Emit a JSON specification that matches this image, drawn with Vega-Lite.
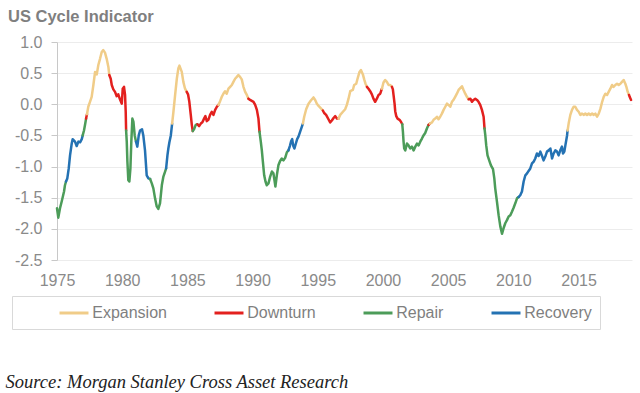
{
 "$schema": "https://vega.github.io/schema/vega-lite/v6.json",
 "width": 575, "height": 218,
 "autosize": {"type": "none"},
 "padding": {"left": 57, "top": 42, "right": 8, "bottom": 133},
 "background": "white",
 "title": {"text": "US Cycle Indicator", "anchor": "start", "frame": "group", "dx": -49, "offset": 9, "font": "Liberation Sans", "fontSize": 16.5, "fontWeight": "bold", "color": "#7f7f7f"},
 "config": {"view": {"stroke": null}, "font": "Liberation Sans"},
 "data": {"values": [
  {"year":1975.00,"value":-1.67,"phase":"Repair","seg":1},
  {"year":1975.10,"value":-1.82,"phase":"Repair","seg":1},
  {"year":1975.23,"value":-1.67,"phase":"Repair","seg":1},
  {"year":1975.36,"value":-1.56,"phase":"Repair","seg":1},
  {"year":1975.54,"value":-1.40,"phase":"Repair","seg":1},
  {"year":1975.61,"value":-1.30,"phase":"Repair","seg":1},
  {"year":1975.69,"value":-1.24,"phase":"Repair","seg":1},
  {"year":1975.69,"value":-1.24,"phase":"Recovery","seg":2},
  {"year":1975.79,"value":-1.19,"phase":"Recovery","seg":2},
  {"year":1975.90,"value":-1.03,"phase":"Recovery","seg":2},
  {"year":1976.00,"value":-0.82,"phase":"Recovery","seg":2},
  {"year":1976.13,"value":-0.63,"phase":"Recovery","seg":2},
  {"year":1976.20,"value":-0.56,"phase":"Recovery","seg":2},
  {"year":1976.38,"value":-0.60,"phase":"Recovery","seg":2},
  {"year":1976.51,"value":-0.67,"phase":"Recovery","seg":2},
  {"year":1976.64,"value":-0.60,"phase":"Recovery","seg":2},
  {"year":1976.77,"value":-0.61,"phase":"Recovery","seg":2},
  {"year":1976.90,"value":-0.56,"phase":"Recovery","seg":2},
  {"year":1976.97,"value":-0.50,"phase":"Recovery","seg":2},
  {"year":1976.97,"value":-0.50,"phase":"Repair","seg":3},
  {"year":1977.07,"value":-0.42,"phase":"Repair","seg":3},
  {"year":1977.15,"value":-0.33,"phase":"Repair","seg":3},
  {"year":1977.23,"value":-0.23,"phase":"Repair","seg":3},
  {"year":1977.23,"value":-0.23,"phase":"Downturn","seg":4},
  {"year":1977.30,"value":-0.16,"phase":"Downturn","seg":4},
  {"year":1977.30,"value":-0.16,"phase":"Expansion","seg":5},
  {"year":1977.40,"value":-0.04,"phase":"Expansion","seg":5},
  {"year":1977.53,"value":0.04,"phase":"Expansion","seg":5},
  {"year":1977.66,"value":0.12,"phase":"Expansion","seg":5},
  {"year":1977.79,"value":0.31,"phase":"Expansion","seg":5},
  {"year":1977.92,"value":0.52,"phase":"Expansion","seg":5},
  {"year":1978.05,"value":0.48,"phase":"Expansion","seg":5},
  {"year":1978.17,"value":0.63,"phase":"Expansion","seg":5},
  {"year":1978.30,"value":0.73,"phase":"Expansion","seg":5},
  {"year":1978.43,"value":0.84,"phase":"Expansion","seg":5},
  {"year":1978.55,"value":0.87,"phase":"Expansion","seg":5},
  {"year":1978.68,"value":0.83,"phase":"Expansion","seg":5},
  {"year":1978.81,"value":0.73,"phase":"Expansion","seg":5},
  {"year":1978.94,"value":0.60,"phase":"Expansion","seg":5},
  {"year":1979.01,"value":0.47,"phase":"Expansion","seg":5},
  {"year":1979.01,"value":0.47,"phase":"Downturn","seg":6},
  {"year":1979.12,"value":0.41,"phase":"Downturn","seg":6},
  {"year":1979.20,"value":0.31,"phase":"Downturn","seg":6},
  {"year":1979.32,"value":0.24,"phase":"Downturn","seg":6},
  {"year":1979.45,"value":0.20,"phase":"Downturn","seg":6},
  {"year":1979.58,"value":0.13,"phase":"Downturn","seg":6},
  {"year":1979.70,"value":0.16,"phase":"Downturn","seg":6},
  {"year":1979.83,"value":0.08,"phase":"Downturn","seg":6},
  {"year":1979.97,"value":0.01,"phase":"Downturn","seg":6},
  {"year":1980.04,"value":0.25,"phase":"Downturn","seg":6},
  {"year":1980.14,"value":0.28,"phase":"Downturn","seg":6},
  {"year":1980.22,"value":0.15,"phase":"Downturn","seg":6},
  {"year":1980.27,"value":-0.12,"phase":"Downturn","seg":6},
  {"year":1980.30,"value":-0.42,"phase":"Downturn","seg":6},
  {"year":1980.30,"value":-0.42,"phase":"Repair","seg":7},
  {"year":1980.35,"value":-0.60,"phase":"Repair","seg":7},
  {"year":1980.40,"value":-0.92,"phase":"Repair","seg":7},
  {"year":1980.47,"value":-1.22,"phase":"Repair","seg":7},
  {"year":1980.55,"value":-1.24,"phase":"Repair","seg":7},
  {"year":1980.63,"value":-1.03,"phase":"Repair","seg":7},
  {"year":1980.70,"value":-0.60,"phase":"Repair","seg":7},
  {"year":1980.78,"value":-0.23,"phase":"Repair","seg":7},
  {"year":1980.86,"value":-0.28,"phase":"Repair","seg":7},
  {"year":1980.96,"value":-0.50,"phase":"Repair","seg":7},
  {"year":1981.06,"value":-0.60,"phase":"Repair","seg":7},
  {"year":1981.06,"value":-0.60,"phase":"Recovery","seg":8},
  {"year":1981.16,"value":-0.68,"phase":"Recovery","seg":8},
  {"year":1981.27,"value":-0.50,"phase":"Recovery","seg":8},
  {"year":1981.37,"value":-0.42,"phase":"Recovery","seg":8},
  {"year":1981.52,"value":-0.40,"phase":"Recovery","seg":8},
  {"year":1981.62,"value":-0.50,"phase":"Recovery","seg":8},
  {"year":1981.75,"value":-0.74,"phase":"Recovery","seg":8},
  {"year":1981.88,"value":-1.14,"phase":"Recovery","seg":8},
  {"year":1982.01,"value":-1.19,"phase":"Recovery","seg":8},
  {"year":1982.14,"value":-1.20,"phase":"Recovery","seg":8},
  {"year":1982.14,"value":-1.20,"phase":"Repair","seg":9},
  {"year":1982.27,"value":-1.27,"phase":"Repair","seg":9},
  {"year":1982.39,"value":-1.35,"phase":"Repair","seg":9},
  {"year":1982.52,"value":-1.51,"phase":"Repair","seg":9},
  {"year":1982.65,"value":-1.64,"phase":"Repair","seg":9},
  {"year":1982.77,"value":-1.68,"phase":"Repair","seg":9},
  {"year":1982.90,"value":-1.59,"phase":"Repair","seg":9},
  {"year":1983.04,"value":-1.30,"phase":"Repair","seg":9},
  {"year":1983.16,"value":-1.16,"phase":"Repair","seg":9},
  {"year":1983.29,"value":-1.08,"phase":"Repair","seg":9},
  {"year":1983.37,"value":-1.03,"phase":"Repair","seg":9},
  {"year":1983.37,"value":-1.03,"phase":"Recovery","seg":10},
  {"year":1983.47,"value":-0.82,"phase":"Recovery","seg":10},
  {"year":1983.54,"value":-0.71,"phase":"Recovery","seg":10},
  {"year":1983.62,"value":-0.61,"phase":"Recovery","seg":10},
  {"year":1983.73,"value":-0.50,"phase":"Recovery","seg":10},
  {"year":1983.83,"value":-0.31,"phase":"Recovery","seg":10},
  {"year":1983.83,"value":-0.31,"phase":"Expansion","seg":11},
  {"year":1983.93,"value":-0.12,"phase":"Expansion","seg":11},
  {"year":1984.06,"value":0.15,"phase":"Expansion","seg":11},
  {"year":1984.19,"value":0.41,"phase":"Expansion","seg":11},
  {"year":1984.31,"value":0.58,"phase":"Expansion","seg":11},
  {"year":1984.39,"value":0.62,"phase":"Expansion","seg":11},
  {"year":1984.57,"value":0.52,"phase":"Expansion","seg":11},
  {"year":1984.69,"value":0.36,"phase":"Expansion","seg":11},
  {"year":1984.82,"value":0.25,"phase":"Expansion","seg":11},
  {"year":1984.95,"value":0.20,"phase":"Expansion","seg":11},
  {"year":1984.95,"value":0.20,"phase":"Downturn","seg":12},
  {"year":1985.05,"value":0.16,"phase":"Downturn","seg":12},
  {"year":1985.15,"value":0.04,"phase":"Downturn","seg":12},
  {"year":1985.26,"value":-0.17,"phase":"Downturn","seg":12},
  {"year":1985.34,"value":-0.33,"phase":"Downturn","seg":12},
  {"year":1985.41,"value":-0.43,"phase":"Downturn","seg":12},
  {"year":1985.41,"value":-0.43,"phase":"Repair","seg":13},
  {"year":1985.51,"value":-0.40,"phase":"Repair","seg":13},
  {"year":1985.64,"value":-0.33,"phase":"Repair","seg":13},
  {"year":1985.77,"value":-0.32,"phase":"Repair","seg":13},
  {"year":1985.77,"value":-0.32,"phase":"Downturn","seg":14},
  {"year":1985.90,"value":-0.35,"phase":"Downturn","seg":14},
  {"year":1986.03,"value":-0.31,"phase":"Downturn","seg":14},
  {"year":1986.15,"value":-0.29,"phase":"Downturn","seg":14},
  {"year":1986.28,"value":-0.23,"phase":"Downturn","seg":14},
  {"year":1986.38,"value":-0.19,"phase":"Downturn","seg":14},
  {"year":1986.49,"value":-0.27,"phase":"Downturn","seg":14},
  {"year":1986.61,"value":-0.25,"phase":"Downturn","seg":14},
  {"year":1986.74,"value":-0.17,"phase":"Downturn","seg":14},
  {"year":1986.87,"value":-0.12,"phase":"Downturn","seg":14},
  {"year":1987.00,"value":-0.17,"phase":"Downturn","seg":14},
  {"year":1987.13,"value":-0.09,"phase":"Downturn","seg":14},
  {"year":1987.26,"value":-0.04,"phase":"Downturn","seg":14},
  {"year":1987.38,"value":-0.01,"phase":"Downturn","seg":14},
  {"year":1987.38,"value":-0.01,"phase":"Expansion","seg":15},
  {"year":1987.51,"value":0.05,"phase":"Expansion","seg":15},
  {"year":1987.64,"value":0.12,"phase":"Expansion","seg":15},
  {"year":1987.76,"value":0.17,"phase":"Expansion","seg":15},
  {"year":1987.89,"value":0.21,"phase":"Expansion","seg":15},
  {"year":1988.02,"value":0.17,"phase":"Expansion","seg":15},
  {"year":1988.15,"value":0.25,"phase":"Expansion","seg":15},
  {"year":1988.28,"value":0.28,"phase":"Expansion","seg":15},
  {"year":1988.41,"value":0.31,"phase":"Expansion","seg":15},
  {"year":1988.53,"value":0.36,"phase":"Expansion","seg":15},
  {"year":1988.66,"value":0.41,"phase":"Expansion","seg":15},
  {"year":1988.79,"value":0.44,"phase":"Expansion","seg":15},
  {"year":1988.91,"value":0.47,"phase":"Expansion","seg":15},
  {"year":1989.04,"value":0.44,"phase":"Expansion","seg":15},
  {"year":1989.17,"value":0.40,"phase":"Expansion","seg":15},
  {"year":1989.30,"value":0.28,"phase":"Expansion","seg":15},
  {"year":1989.43,"value":0.20,"phase":"Expansion","seg":15},
  {"year":1989.56,"value":0.15,"phase":"Expansion","seg":15},
  {"year":1989.68,"value":0.09,"phase":"Expansion","seg":15},
  {"year":1989.68,"value":0.09,"phase":"Downturn","seg":16},
  {"year":1989.81,"value":0.07,"phase":"Downturn","seg":16},
  {"year":1990.07,"value":0.04,"phase":"Downturn","seg":16},
  {"year":1990.20,"value":-0.01,"phase":"Downturn","seg":16},
  {"year":1990.33,"value":-0.09,"phase":"Downturn","seg":16},
  {"year":1990.45,"value":-0.23,"phase":"Downturn","seg":16},
  {"year":1990.53,"value":-0.44,"phase":"Downturn","seg":16},
  {"year":1990.53,"value":-0.44,"phase":"Repair","seg":17},
  {"year":1990.63,"value":-0.60,"phase":"Repair","seg":17},
  {"year":1990.71,"value":-0.74,"phase":"Repair","seg":17},
  {"year":1990.79,"value":-0.92,"phase":"Repair","seg":17},
  {"year":1990.89,"value":-1.14,"phase":"Repair","seg":17},
  {"year":1990.99,"value":-1.24,"phase":"Repair","seg":17},
  {"year":1991.09,"value":-1.30,"phase":"Repair","seg":17},
  {"year":1991.22,"value":-1.27,"phase":"Repair","seg":17},
  {"year":1991.35,"value":-1.16,"phase":"Repair","seg":17},
  {"year":1991.48,"value":-1.08,"phase":"Repair","seg":17},
  {"year":1991.60,"value":-1.11,"phase":"Repair","seg":17},
  {"year":1991.68,"value":-1.22,"phase":"Repair","seg":17},
  {"year":1991.75,"value":-1.32,"phase":"Repair","seg":17},
  {"year":1991.86,"value":-1.14,"phase":"Repair","seg":17},
  {"year":1991.98,"value":-0.98,"phase":"Repair","seg":17},
  {"year":1992.11,"value":-0.91,"phase":"Repair","seg":17},
  {"year":1992.24,"value":-0.87,"phase":"Repair","seg":17},
  {"year":1992.37,"value":-0.90,"phase":"Repair","seg":17},
  {"year":1992.50,"value":-0.86,"phase":"Repair","seg":17},
  {"year":1992.63,"value":-0.77,"phase":"Repair","seg":17},
  {"year":1992.75,"value":-0.74,"phase":"Repair","seg":17},
  {"year":1992.75,"value":-0.74,"phase":"Recovery","seg":18},
  {"year":1992.86,"value":-0.67,"phase":"Recovery","seg":18},
  {"year":1992.96,"value":-0.59,"phase":"Recovery","seg":18},
  {"year":1993.04,"value":-0.56,"phase":"Recovery","seg":18},
  {"year":1993.11,"value":-0.66,"phase":"Recovery","seg":18},
  {"year":1993.21,"value":-0.71,"phase":"Recovery","seg":18},
  {"year":1993.32,"value":-0.63,"phase":"Recovery","seg":18},
  {"year":1993.42,"value":-0.56,"phase":"Recovery","seg":18},
  {"year":1993.52,"value":-0.52,"phase":"Recovery","seg":18},
  {"year":1993.65,"value":-0.44,"phase":"Recovery","seg":18},
  {"year":1993.78,"value":-0.36,"phase":"Recovery","seg":18},
  {"year":1993.86,"value":-0.31,"phase":"Recovery","seg":18},
  {"year":1993.86,"value":-0.31,"phase":"Expansion","seg":19},
  {"year":1993.96,"value":-0.20,"phase":"Expansion","seg":19},
  {"year":1994.11,"value":-0.08,"phase":"Expansion","seg":19},
  {"year":1994.29,"value":0.01,"phase":"Expansion","seg":19},
  {"year":1994.47,"value":0.06,"phase":"Expansion","seg":19},
  {"year":1994.67,"value":0.11,"phase":"Expansion","seg":19},
  {"year":1994.80,"value":0.07,"phase":"Expansion","seg":19},
  {"year":1994.93,"value":0.01,"phase":"Expansion","seg":19},
  {"year":1995.08,"value":-0.03,"phase":"Expansion","seg":19},
  {"year":1995.26,"value":-0.07,"phase":"Expansion","seg":19},
  {"year":1995.39,"value":-0.10,"phase":"Expansion","seg":19},
  {"year":1995.39,"value":-0.10,"phase":"Downturn","seg":20},
  {"year":1995.49,"value":-0.14,"phase":"Downturn","seg":20},
  {"year":1995.64,"value":-0.17,"phase":"Downturn","seg":20},
  {"year":1995.82,"value":-0.24,"phase":"Downturn","seg":20},
  {"year":1995.95,"value":-0.29,"phase":"Downturn","seg":20},
  {"year":1996.08,"value":-0.26,"phase":"Downturn","seg":20},
  {"year":1996.21,"value":-0.22,"phase":"Downturn","seg":20},
  {"year":1996.34,"value":-0.19,"phase":"Downturn","seg":20},
  {"year":1996.47,"value":-0.23,"phase":"Downturn","seg":20},
  {"year":1996.59,"value":-0.23,"phase":"Downturn","seg":20},
  {"year":1996.59,"value":-0.23,"phase":"Expansion","seg":21},
  {"year":1996.72,"value":-0.17,"phase":"Expansion","seg":21},
  {"year":1996.93,"value":-0.12,"phase":"Expansion","seg":21},
  {"year":1997.10,"value":-0.08,"phase":"Expansion","seg":21},
  {"year":1997.23,"value":-0.01,"phase":"Expansion","seg":21},
  {"year":1997.36,"value":0.09,"phase":"Expansion","seg":21},
  {"year":1997.49,"value":0.21,"phase":"Expansion","seg":21},
  {"year":1997.69,"value":0.23,"phase":"Expansion","seg":21},
  {"year":1997.79,"value":0.31,"phase":"Expansion","seg":21},
  {"year":1997.95,"value":0.33,"phase":"Expansion","seg":21},
  {"year":1998.05,"value":0.41,"phase":"Expansion","seg":21},
  {"year":1998.20,"value":0.52,"phase":"Expansion","seg":21},
  {"year":1998.31,"value":0.55,"phase":"Expansion","seg":21},
  {"year":1998.46,"value":0.48,"phase":"Expansion","seg":21},
  {"year":1998.56,"value":0.40,"phase":"Expansion","seg":21},
  {"year":1998.66,"value":0.33,"phase":"Expansion","seg":21},
  {"year":1998.77,"value":0.28,"phase":"Expansion","seg":21},
  {"year":1998.77,"value":0.28,"phase":"Downturn","seg":22},
  {"year":1998.89,"value":0.25,"phase":"Downturn","seg":22},
  {"year":1999.02,"value":0.21,"phase":"Downturn","seg":22},
  {"year":1999.15,"value":0.16,"phase":"Downturn","seg":22},
  {"year":1999.27,"value":0.09,"phase":"Downturn","seg":22},
  {"year":1999.40,"value":0.04,"phase":"Downturn","seg":22},
  {"year":1999.53,"value":0.09,"phase":"Downturn","seg":22},
  {"year":1999.66,"value":0.15,"phase":"Downturn","seg":22},
  {"year":1999.79,"value":0.17,"phase":"Downturn","seg":22},
  {"year":1999.92,"value":0.25,"phase":"Downturn","seg":22},
  {"year":1999.92,"value":0.25,"phase":"Expansion","seg":23},
  {"year":2000.04,"value":0.35,"phase":"Expansion","seg":23},
  {"year":2000.17,"value":0.39,"phase":"Expansion","seg":23},
  {"year":2000.30,"value":0.36,"phase":"Expansion","seg":23},
  {"year":2000.43,"value":0.31,"phase":"Expansion","seg":23},
  {"year":2000.56,"value":0.31,"phase":"Expansion","seg":23},
  {"year":2000.69,"value":0.28,"phase":"Expansion","seg":23},
  {"year":2000.69,"value":0.28,"phase":"Downturn","seg":24},
  {"year":2000.76,"value":0.24,"phase":"Downturn","seg":24},
  {"year":2000.81,"value":0.15,"phase":"Downturn","seg":24},
  {"year":2000.89,"value":0.01,"phase":"Downturn","seg":24},
  {"year":2000.94,"value":-0.11,"phase":"Downturn","seg":24},
  {"year":2001.02,"value":-0.19,"phase":"Downturn","seg":24},
  {"year":2001.12,"value":-0.23,"phase":"Downturn","seg":24},
  {"year":2001.27,"value":-0.25,"phase":"Downturn","seg":24},
  {"year":2001.38,"value":-0.28,"phase":"Downturn","seg":24},
  {"year":2001.48,"value":-0.32,"phase":"Downturn","seg":24},
  {"year":2001.48,"value":-0.32,"phase":"Repair","seg":25},
  {"year":2001.53,"value":-0.44,"phase":"Repair","seg":25},
  {"year":2001.58,"value":-0.60,"phase":"Repair","seg":25},
  {"year":2001.63,"value":-0.71,"phase":"Repair","seg":25},
  {"year":2001.71,"value":-0.74,"phase":"Repair","seg":25},
  {"year":2001.84,"value":-0.63,"phase":"Repair","seg":25},
  {"year":2001.96,"value":-0.66,"phase":"Repair","seg":25},
  {"year":2002.09,"value":-0.71,"phase":"Repair","seg":25},
  {"year":2002.22,"value":-0.68,"phase":"Repair","seg":25},
  {"year":2002.35,"value":-0.74,"phase":"Repair","seg":25},
  {"year":2002.48,"value":-0.68,"phase":"Repair","seg":25},
  {"year":2002.61,"value":-0.63,"phase":"Repair","seg":25},
  {"year":2002.73,"value":-0.66,"phase":"Repair","seg":25},
  {"year":2002.86,"value":-0.60,"phase":"Repair","seg":25},
  {"year":2002.99,"value":-0.55,"phase":"Repair","seg":25},
  {"year":2003.11,"value":-0.50,"phase":"Repair","seg":25},
  {"year":2003.24,"value":-0.46,"phase":"Repair","seg":25},
  {"year":2003.37,"value":-0.39,"phase":"Repair","seg":25},
  {"year":2003.50,"value":-0.33,"phase":"Repair","seg":25},
  {"year":2003.50,"value":-0.33,"phase":"Downturn","seg":26},
  {"year":2003.60,"value":-0.31,"phase":"Downturn","seg":26},
  {"year":2003.60,"value":-0.31,"phase":"Expansion","seg":27},
  {"year":2003.76,"value":-0.29,"phase":"Expansion","seg":27},
  {"year":2003.88,"value":-0.25,"phase":"Expansion","seg":27},
  {"year":2004.01,"value":-0.23,"phase":"Expansion","seg":27},
  {"year":2004.14,"value":-0.20,"phase":"Expansion","seg":27},
  {"year":2004.26,"value":-0.24,"phase":"Expansion","seg":27},
  {"year":2004.39,"value":-0.20,"phase":"Expansion","seg":27},
  {"year":2004.52,"value":-0.15,"phase":"Expansion","seg":27},
  {"year":2004.65,"value":-0.09,"phase":"Expansion","seg":27},
  {"year":2004.78,"value":-0.04,"phase":"Expansion","seg":27},
  {"year":2004.91,"value":0.01,"phase":"Expansion","seg":27},
  {"year":2005.03,"value":-0.01,"phase":"Expansion","seg":27},
  {"year":2005.16,"value":-0.04,"phase":"Expansion","seg":27},
  {"year":2005.29,"value":0.04,"phase":"Expansion","seg":27},
  {"year":2005.41,"value":0.07,"phase":"Expansion","seg":27},
  {"year":2005.54,"value":0.12,"phase":"Expansion","seg":27},
  {"year":2005.67,"value":0.17,"phase":"Expansion","seg":27},
  {"year":2005.80,"value":0.23,"phase":"Expansion","seg":27},
  {"year":2005.93,"value":0.26,"phase":"Expansion","seg":27},
  {"year":2006.06,"value":0.29,"phase":"Expansion","seg":27},
  {"year":2006.18,"value":0.23,"phase":"Expansion","seg":27},
  {"year":2006.31,"value":0.17,"phase":"Expansion","seg":27},
  {"year":2006.44,"value":0.12,"phase":"Expansion","seg":27},
  {"year":2006.57,"value":0.08,"phase":"Expansion","seg":27},
  {"year":2006.57,"value":0.08,"phase":"Downturn","seg":28},
  {"year":2006.70,"value":0.09,"phase":"Downturn","seg":28},
  {"year":2006.83,"value":0.04,"phase":"Downturn","seg":28},
  {"year":2006.95,"value":0.07,"phase":"Downturn","seg":28},
  {"year":2007.08,"value":0.09,"phase":"Downturn","seg":28},
  {"year":2007.21,"value":0.07,"phase":"Downturn","seg":28},
  {"year":2007.33,"value":0.04,"phase":"Downturn","seg":28},
  {"year":2007.46,"value":-0.01,"phase":"Downturn","seg":28},
  {"year":2007.59,"value":-0.09,"phase":"Downturn","seg":28},
  {"year":2007.72,"value":-0.20,"phase":"Downturn","seg":28},
  {"year":2007.79,"value":-0.39,"phase":"Downturn","seg":28},
  {"year":2007.79,"value":-0.39,"phase":"Repair","seg":29},
  {"year":2007.85,"value":-0.50,"phase":"Repair","seg":29},
  {"year":2007.92,"value":-0.66,"phase":"Repair","seg":29},
  {"year":2008.02,"value":-0.82,"phase":"Repair","seg":29},
  {"year":2008.18,"value":-0.92,"phase":"Repair","seg":29},
  {"year":2008.28,"value":-0.98,"phase":"Repair","seg":29},
  {"year":2008.44,"value":-1.04,"phase":"Repair","seg":29},
  {"year":2008.54,"value":-1.19,"phase":"Repair","seg":29},
  {"year":2008.61,"value":-1.35,"phase":"Repair","seg":29},
  {"year":2008.74,"value":-1.56,"phase":"Repair","seg":29},
  {"year":2008.87,"value":-1.78,"phase":"Repair","seg":29},
  {"year":2009.00,"value":-1.96,"phase":"Repair","seg":29},
  {"year":2009.13,"value":-2.08,"phase":"Repair","seg":29},
  {"year":2009.25,"value":-1.99,"phase":"Repair","seg":29},
  {"year":2009.38,"value":-1.91,"phase":"Repair","seg":29},
  {"year":2009.51,"value":-1.86,"phase":"Repair","seg":29},
  {"year":2009.64,"value":-1.80,"phase":"Repair","seg":29},
  {"year":2009.77,"value":-1.78,"phase":"Repair","seg":29},
  {"year":2009.90,"value":-1.72,"phase":"Repair","seg":29},
  {"year":2010.02,"value":-1.66,"phase":"Repair","seg":29},
  {"year":2010.15,"value":-1.59,"phase":"Repair","seg":29},
  {"year":2010.28,"value":-1.51,"phase":"Repair","seg":29},
  {"year":2010.40,"value":-1.49,"phase":"Repair","seg":29},
  {"year":2010.40,"value":-1.49,"phase":"Recovery","seg":30},
  {"year":2010.53,"value":-1.46,"phase":"Recovery","seg":30},
  {"year":2010.66,"value":-1.40,"phase":"Recovery","seg":30},
  {"year":2010.79,"value":-1.24,"phase":"Recovery","seg":30},
  {"year":2010.92,"value":-1.14,"phase":"Recovery","seg":30},
  {"year":2011.05,"value":-1.11,"phase":"Recovery","seg":30},
  {"year":2011.17,"value":-1.07,"phase":"Recovery","seg":30},
  {"year":2011.30,"value":-1.03,"phase":"Recovery","seg":30},
  {"year":2011.43,"value":-0.95,"phase":"Recovery","seg":30},
  {"year":2011.56,"value":-0.92,"phase":"Recovery","seg":30},
  {"year":2011.68,"value":-0.87,"phase":"Recovery","seg":30},
  {"year":2011.81,"value":-0.79,"phase":"Recovery","seg":30},
  {"year":2011.94,"value":-0.83,"phase":"Recovery","seg":30},
  {"year":2012.07,"value":-0.76,"phase":"Recovery","seg":30},
  {"year":2012.20,"value":-0.83,"phase":"Recovery","seg":30},
  {"year":2012.32,"value":-0.90,"phase":"Recovery","seg":30},
  {"year":2012.45,"value":-0.84,"phase":"Recovery","seg":30},
  {"year":2012.58,"value":-0.76,"phase":"Recovery","seg":30},
  {"year":2012.71,"value":-0.74,"phase":"Recovery","seg":30},
  {"year":2012.84,"value":-0.71,"phase":"Recovery","seg":30},
  {"year":2012.97,"value":-0.87,"phase":"Recovery","seg":30},
  {"year":2013.09,"value":-0.79,"phase":"Recovery","seg":30},
  {"year":2013.22,"value":-0.74,"phase":"Recovery","seg":30},
  {"year":2013.35,"value":-0.76,"phase":"Recovery","seg":30},
  {"year":2013.47,"value":-0.82,"phase":"Recovery","seg":30},
  {"year":2013.60,"value":-0.74,"phase":"Recovery","seg":30},
  {"year":2013.73,"value":-0.68,"phase":"Recovery","seg":30},
  {"year":2013.81,"value":-0.79,"phase":"Recovery","seg":30},
  {"year":2013.91,"value":-0.76,"phase":"Recovery","seg":30},
  {"year":2013.99,"value":-0.66,"phase":"Recovery","seg":30},
  {"year":2014.12,"value":-0.50,"phase":"Recovery","seg":30},
  {"year":2014.16,"value":-0.42,"phase":"Recovery","seg":30},
  {"year":2014.16,"value":-0.42,"phase":"Expansion","seg":31},
  {"year":2014.24,"value":-0.31,"phase":"Expansion","seg":31},
  {"year":2014.37,"value":-0.17,"phase":"Expansion","seg":31},
  {"year":2014.50,"value":-0.09,"phase":"Expansion","seg":31},
  {"year":2014.62,"value":-0.04,"phase":"Expansion","seg":31},
  {"year":2014.75,"value":-0.04,"phase":"Expansion","seg":31},
  {"year":2014.88,"value":-0.09,"phase":"Expansion","seg":31},
  {"year":2015.01,"value":-0.12,"phase":"Expansion","seg":31},
  {"year":2015.14,"value":-0.17,"phase":"Expansion","seg":31},
  {"year":2015.27,"value":-0.15,"phase":"Expansion","seg":31},
  {"year":2015.39,"value":-0.17,"phase":"Expansion","seg":31},
  {"year":2015.52,"value":-0.15,"phase":"Expansion","seg":31},
  {"year":2015.65,"value":-0.17,"phase":"Expansion","seg":31},
  {"year":2015.78,"value":-0.15,"phase":"Expansion","seg":31},
  {"year":2015.91,"value":-0.17,"phase":"Expansion","seg":31},
  {"year":2016.04,"value":-0.15,"phase":"Expansion","seg":31},
  {"year":2016.17,"value":-0.17,"phase":"Expansion","seg":31},
  {"year":2016.29,"value":-0.15,"phase":"Expansion","seg":31},
  {"year":2016.42,"value":-0.20,"phase":"Expansion","seg":31},
  {"year":2016.55,"value":-0.15,"phase":"Expansion","seg":31},
  {"year":2016.68,"value":-0.07,"phase":"Expansion","seg":31},
  {"year":2016.81,"value":0.04,"phase":"Expansion","seg":31},
  {"year":2016.93,"value":0.12,"phase":"Expansion","seg":31},
  {"year":2017.06,"value":0.17,"phase":"Expansion","seg":31},
  {"year":2017.19,"value":0.15,"phase":"Expansion","seg":31},
  {"year":2017.31,"value":0.20,"phase":"Expansion","seg":31},
  {"year":2017.44,"value":0.25,"phase":"Expansion","seg":31},
  {"year":2017.57,"value":0.31,"phase":"Expansion","seg":31},
  {"year":2017.69,"value":0.28,"phase":"Expansion","seg":31},
  {"year":2017.82,"value":0.31,"phase":"Expansion","seg":31},
  {"year":2017.95,"value":0.33,"phase":"Expansion","seg":31},
  {"year":2018.08,"value":0.31,"phase":"Expansion","seg":31},
  {"year":2018.21,"value":0.33,"phase":"Expansion","seg":31},
  {"year":2018.33,"value":0.36,"phase":"Expansion","seg":31},
  {"year":2018.46,"value":0.39,"phase":"Expansion","seg":31},
  {"year":2018.59,"value":0.33,"phase":"Expansion","seg":31},
  {"year":2018.67,"value":0.28,"phase":"Expansion","seg":31},
  {"year":2018.77,"value":0.20,"phase":"Expansion","seg":31},
  {"year":2018.87,"value":0.15,"phase":"Expansion","seg":31},
  {"year":2018.87,"value":0.15,"phase":"Downturn","seg":32},
  {"year":2018.92,"value":0.12,"phase":"Downturn","seg":32},
  {"year":2019.03,"value":0.07,"phase":"Downturn","seg":32}
 ]},
 "mark": {"type": "line", "strokeWidth": 2.5, "strokeJoin": "round", "strokeCap": "round"},
 "encoding": {
  "x": {"field": "year", "type": "quantitative",
        "scale": {"domain": [1975, 2019.1], "nice": false, "zero": false},
        "axis": {"values": [1975, 1980, 1985, 1990, 1995, 2000, 2005, 2010, 2015], "format": "d", "grid": false, "domain": false, "ticks": false,
                 "labelFontSize": 16, "labelColor": "#8a8a8a", "labelPadding": 12, "labelFlush": false, "labelFont": "Liberation Sans",
                 "title": "Source: Morgan Stanley Cross Asset Research", "titleX": -52, "titleY": 127, "titleAlign": "left", "titleAnchor": null, "titleBaseline": "alphabetic",
                 "titleFont": "Liberation Serif", "titleFontStyle": "italic", "titleFontWeight": "normal", "titleFontSize": 18.5, "titleColor": "#222222"}},
  "y": {"field": "value", "type": "quantitative",
        "scale": {"domain": [-2.5, 1.0], "nice": false, "zero": false},
        "axis": {"values": [-2.5, -2, -1.5, -1, -0.5, 0, 0.5, 1], "labelExpr": "replace(format(datum.value, '.1f'), '\u2212', '-')", "title": null,
                 "labelFontSize": 16, "labelColor": "#8a8a8a", "labelFont": "Liberation Sans", "labelPadding": 9, "tickSize": 6, "tickColor": "#c8c8c8",
                 "domainColor": "#c8c8c8", "gridColor": "#ececec", "grid": true}},
  "color": {"field": "phase", "type": "nominal",
            "scale": {"domain": ["Expansion", "Downturn", "Repair", "Recovery"], "range": ["#F0CC88", "#E3201E", "#4C9C59", "#2472B3"]},
            "legend": {"title": null, "orient": "none", "legendX": -45, "legendY": 254, "direction": "horizontal", "columns": 4,
                       "symbolType": "M-2,0H2", "symbolSize": 210, "symbolStrokeWidth": 3, "symbolOffset": 45, "columnPadding": 8,
                       "labelExpr": "datum.label == 'Recovery' ? 'Recovery\u00a0\u00a0\u00a0\u00a0\u00a0\u00a0\u00a0\u00a0' : datum.label",
                       "labelFontSize": 16, "labelColor": "#7f7f7f", "labelFont": "Liberation Sans", "labelOffset": 9.25,
                       "padding": 8, "strokeColor": "#d9d9d9", "fillColor": "white"}},
  "detail": {"field": "seg", "type": "nominal"}
 }
}
